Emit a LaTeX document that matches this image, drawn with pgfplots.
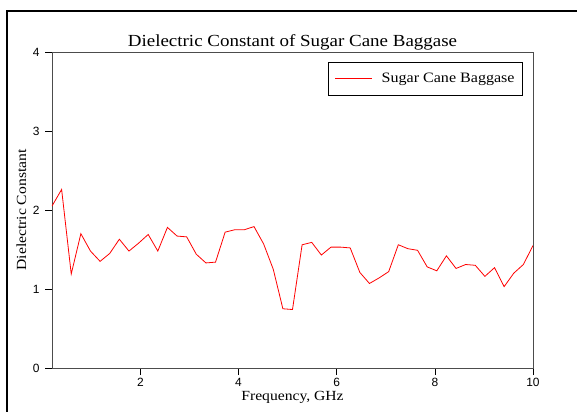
\documentclass[border=0pt]{standalone}
\usepackage{pgfplots}
\pgfplotsset{compat=1.18}
\usepackage{fontspec}
\setmainfont{Liberation Serif}[FakeStretch=1.12]
\newfontfamily\ticksfont{Liberation Sans}
\pgfplotstableread{
x y
0.200 2.05
0.396 2.26
0.592 1.19
0.788 1.70
0.984 1.48
1.180 1.35
1.376 1.45
1.572 1.63
1.768 1.48
1.964 1.58
2.160 1.69
2.356 1.48
2.552 1.78
2.748 1.67
2.944 1.66
3.140 1.44
3.336 1.33
3.532 1.34
3.728 1.72
3.924 1.75
4.120 1.75
4.316 1.79
4.512 1.57
4.708 1.25
4.904 0.75
5.100 0.74
5.296 1.56
5.492 1.59
5.688 1.43
5.884 1.53
6.080 1.53
6.276 1.52
6.472 1.21
6.668 1.07
6.864 1.14
7.060 1.22
7.256 1.56
7.452 1.51
7.648 1.49
7.844 1.28
8.040 1.23
8.236 1.42
8.432 1.26
8.628 1.31
8.824 1.30
9.020 1.16
9.216 1.27
9.412 1.03
9.608 1.20
9.804 1.31
10.000 1.55
}\datatable
\begin{document}
\begin{tikzpicture}
\useasboundingbox (0,0) rectangle (577bp,412bp);
\draw[line width=2bp] (6.6bp,0) -- (6.6bp,401bp) -- (577bp,401bp);
\begin{axis}[
  at={(52bp,44bp)}, anchor=south west,
  width=481bp, height=316bp, scale only axis,
  xmin=0.2, xmax=10, ymin=0, ymax=4,
  xtick={2,4,6,8,10}, ytick={0,1,2,3,4},
  tick align=outside, xtick pos=left, ytick pos=left,
  major tick length=7bp,
  tick style={black, line width=0.6bp},
  axis line style={line width=0.8bp, black!70},
  /pgf/number format/assume math mode=true,
  tick label style={font=\ticksfont\fontsize{12}{14}\selectfont},
  yticklabel style={xshift=-2bp},
  xticklabel style={yshift=-2bp, inner ysep=1bp},
  title={Dielectric Constant of Sugar Cane Baggase},
  title style={font=\fontsize{17}{20}\selectfont, inner sep=0pt, yshift=-4bp},
  xlabel={Frequency, GHz},
  xlabel style={font=\fontsize{14}{16}\selectfont, inner sep=0pt, yshift=-3bp},
  ylabel={Dielectric Constant},
  ylabel style={font=\fontsize{14}{16}\selectfont, inner sep=0pt, yshift=3bp},
  legend style={at={(1,1)}, anchor=north east, xshift=-10bp, yshift=-10bp,
    draw=black, line width=0.8bp, font=\fontsize{14.4}{17}\selectfont,
    inner xsep=6bp, inner ysep=9bp},
  legend image code/.code={\draw[#1, line width=0.8bp] (0bp,0bp) -- (37bp,0bp); \path (44bp,0bp);},
]
\addplot[red, line width=0.8bp] table[x=x, y=y] {\datatable};
\addlegendentry{Sugar Cane Baggase}
\end{axis}
\end{tikzpicture}
\end{document}
